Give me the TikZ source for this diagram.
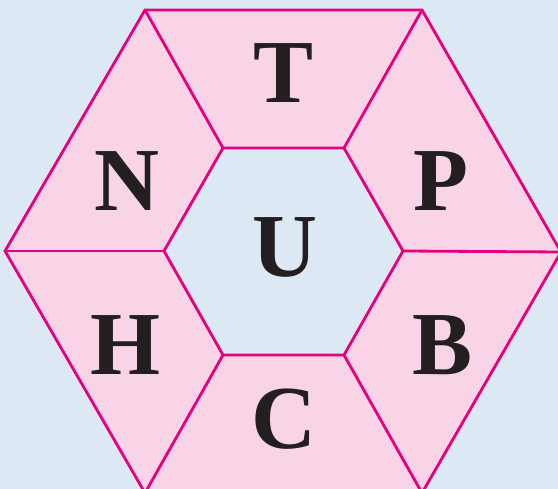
\documentclass[tikz,border=0pt]{standalone}
\usepackage{fontspec}
\setmainfont{Liberation Serif}
\definecolor{bgblue}{HTML}{DCE9F5}
\definecolor{cellpink}{HTML}{F9D4E6}
\definecolor{edgemag}{HTML}{E6007E}
\definecolor{letter}{HTML}{231F20}
\tikzset{
  edge/.style={draw=edgemag, line width=2.8pt, line join=miter},
  letternode/.style={anchor=base, inner sep=0pt, text=letter, font=\fontsize{90}{90}\selectfont\bfseries}
}
\begin{document}
\begin{tikzpicture}[x=1pt,y=-1pt]
\useasboundingbox (0,0) rectangle (558,489);
\fill[bgblue] (0,0) rectangle (558,489);
% outer vertices
\coordinate (o1) at (145,10);
\coordinate (o2) at (422,10);
\coordinate (o3) at (561,252);
\coordinate (o4) at (422,493);
\coordinate (o5) at (145,493);
\coordinate (o6) at (5,251);
% inner vertices
\coordinate (i1) at (223,148);
\coordinate (i2) at (344,148);
\coordinate (i3) at (403,251);
\coordinate (i4) at (344,355);
\coordinate (i5) at (223,355);
\coordinate (i6) at (164,251);
\fill[cellpink] (o1) -- (o2) -- (o3) -- (o4) -- (o5) -- (o6) -- cycle;
\fill[bgblue] (i1) -- (i2) -- (i3) -- (i4) -- (i5) -- (i6) -- cycle;
\draw[edge] (o1) -- (o2) -- (o3) -- (o4) -- (o5) -- (o6) -- cycle;
\draw[edge] (i1) -- (i2) -- (i3) -- (i4) -- (i5) -- (i6) -- cycle;
\draw[edge] (o1) -- (i1);
\draw[edge] (o2) -- (i2);
\draw[edge] (o3) -- (i3);
\draw[edge] (o4) -- (i4);
\draw[edge] (o5) -- (i5);
\draw[edge] (o6) -- (i6);
% letters
\node[letternode] (T) at (284,103) {T};
\node[letternode] (N) at (126.5,211) {N};
\node[letternode] (P) at (441,211) {P};
\node[letternode] (U) at (284.5,277) {U};
\node[letternode] (H) at (126,375) {H};
\node[letternode] (B) at (443,375) {B};
\node[letternode] (C) at (284,449) {C};
\end{tikzpicture}
\end{document}
